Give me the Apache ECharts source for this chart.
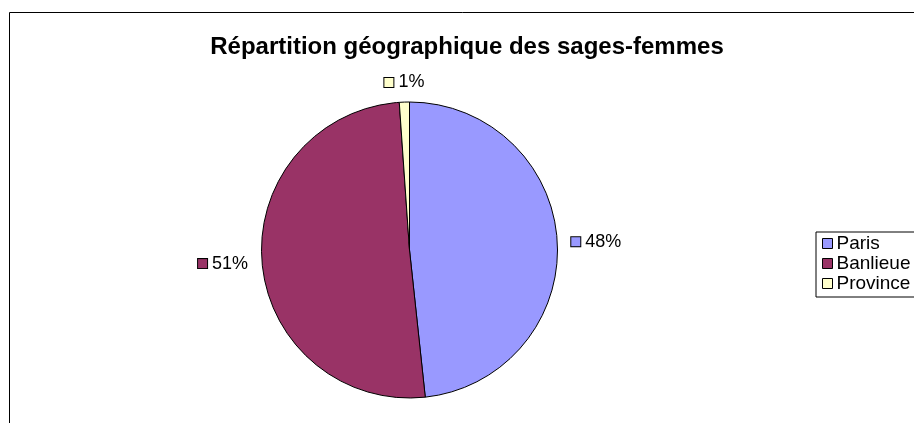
<!DOCTYPE html>
<html><head><meta charset="utf-8">
<script src="https://cdn.jsdelivr.net/npm/echarts@6/dist/echarts.min.js"></script>
<style>html,body{margin:0;padding:0;background:#fff}#c{width:914px;height:423px}</style>
</head><body><div id="c"></div>
<script>
const categories = ['Paris', 'Banlieue', 'Province'];
const values = [48.3, 50.6, 1.1];
const colors = ['#9999FF', '#993366', '#FFFFCC'];
const titleText = 'Répartition géographique des sages-femmes';

const chart = echarts.init(document.getElementById('c'), null, {renderer: 'canvas'});
const font = '"Liberation Sans", Arial, sans-serif';
const data = categories.map((n, i) => ({
  name: n, value: values[i],
  itemStyle: {color: colors[i]},
  label: {rich: {sq: {width: 9, height: 9, backgroundColor: colors[i], borderColor: '#000', borderWidth: 1}}}
}));
chart.setOption({
  animation: false,
  backgroundColor: '#fff',
  title: {
    text: titleText, left: 462, top: 30, textAlign: 'center',
    textStyle: {fontFamily: font, fontSize: 24, fontWeight: 'bold', color: '#000'}
  },
  graphic: [{
    type: 'rect', shape: {x: 9.5, y: 12.5, width: 1000, height: 1000},
    style: {fill: null, stroke: '#000', lineWidth: 1}, silent: true
  }],
  legend: {
    orient: 'vertical', left: 816, top: 232,
    data: categories,
    icon: 'rect', itemWidth: 10, itemHeight: 10, itemGap: 1,
    padding: [2, 6, 4, 6],
    borderColor: '#000', borderWidth: 1,
    textStyle: {fontFamily: font, fontSize: 19, color: '#000', padding: [0, 0, 0, -1]},
    itemStyle: {borderColor: '#000', borderWidth: 1}
  },
  series: [{
    type: 'pie',
    center: [409.5, 250],
    radius: [0, 148],
    startAngle: 90,
    clockwise: true,
    data: data,
    itemStyle: {borderColor: '#000', borderWidth: 1},
    label: {
      show: true, position: 'outside',
      formatter: p => '{sq|} ' + Math.round(p.percent) + '%',
      fontFamily: font, fontSize: 18, color: '#000'
    },
    labelLine: {show: false, length: 7, length2: 2},
    labelLayout: function (params) {
      if (params.dataIndex === 2) {
        return {x: params.rect.x + params.rect.width / 2, y: params.rect.y - 10, align: 'center', verticalAlign: 'bottom'};
      }
    },
    emphasis: {disabled: true}
  }]
});
</script></body></html>
